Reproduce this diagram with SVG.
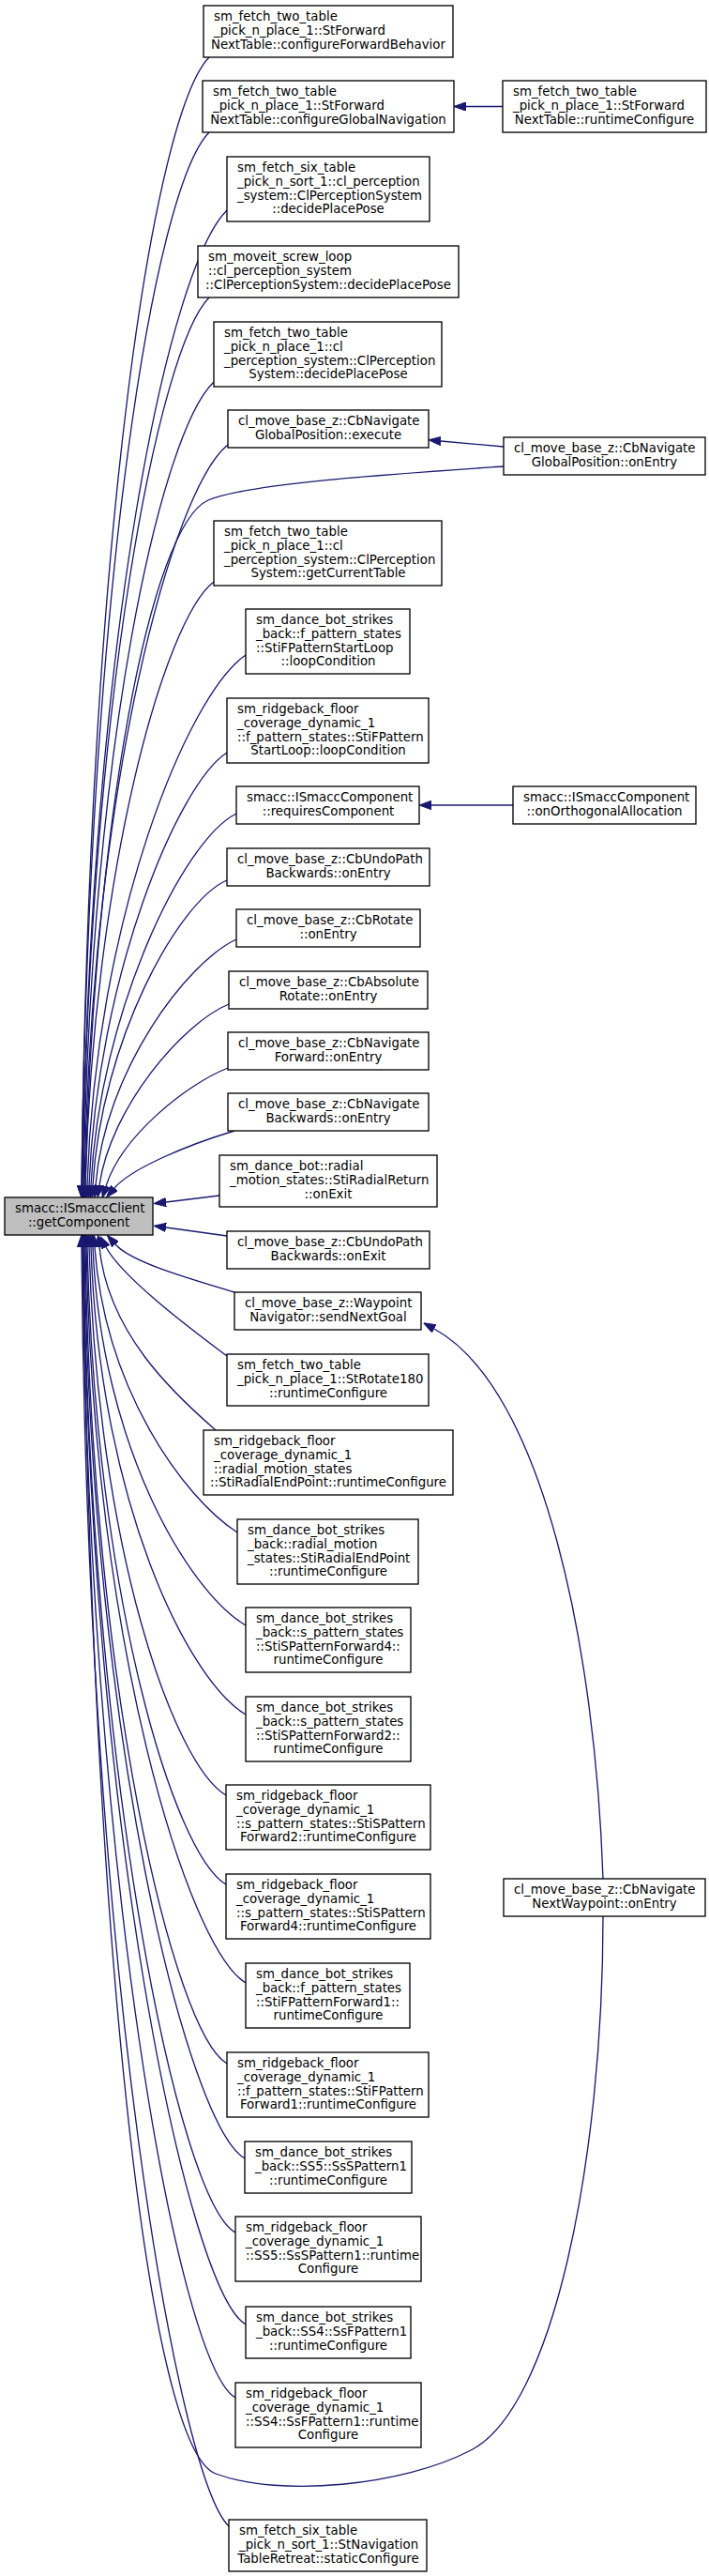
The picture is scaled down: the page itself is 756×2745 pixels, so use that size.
<svg xmlns="http://www.w3.org/2000/svg" width="756" height="2745" viewBox="0 0 756 2745">
<style>
.box{fill:#ffffff;stroke:#000000;stroke-width:1.33}
.main{fill:#bfbfbf;stroke:#000000;stroke-width:1.33}
text{font-family:"DejaVu Sans","Liberation Sans",sans-serif;font-size:13.33px;fill:#000000}
.c{text-anchor:middle}
.e{fill:none;stroke:#191970;stroke-width:1.33;marker-end:url(#ah)}
</style>
<defs>
<marker id="ah" markerUnits="userSpaceOnUse" markerWidth="13" markerHeight="9.4" viewBox="0 0 13 9.4" refX="0" refY="4.7" orient="auto">
<path d="M0,0 L13,4.7 L0,9.4 Z" fill="#191970" stroke="#191970" stroke-width="1"/>
</marker>
</defs>
<rect x="0" y="0" width="756" height="2745" fill="#ffffff"/>
<g id="edges">
<path class="e" d="M536,113.5 L497,113.5"/>
<path class="e" d="M537,476 L470,470"/>
<path class="e" d="M547,858 L460,858"/>
<path class="e" d="M643,2002 C635,1760 580,1480 463,1416"/>
<path class="e" d="M223,61 C165,120 95,560 87,1263"/>
<path class="e" d="M223,141 C165,200 95,620 87,1263"/>
<path class="e" d="M242,224 C180,285 96,680 88,1263"/>
<path class="e" d="M223,317 C170,370 96,740 88,1263"/>
<path class="e" d="M228,407 C172,460 97,790 89,1263"/>
<path class="e" d="M243,474 C185,520 98,830 90,1263"/>
<path class="e" d="M537,497 C420,505 265,515 222,533 C160,560 100,880 91,1263"/>
<path class="e" d="M228,620 C175,660 100,930 91,1263"/>
<path class="e" d="M262,698 C200,740 102,980 93,1263"/>
<path class="e" d="M242,802 C190,835 104,1040 95,1263"/>
<path class="e" d="M252,867 C195,895 106,1080 97,1263"/>
<path class="e" d="M242,938 C190,960 108,1110 99,1263"/>
<path class="e" d="M252,1001 C200,1025 112,1140 102,1263"/>
<path class="e" d="M244,1070 C195,1090 118,1180 106,1263"/>
<path class="e" d="M243,1138 C200,1155 130,1210 113,1264"/>
<path class="e" d="M250,1205 C200,1220 140,1245 122,1266"/>
<path class="e" d="M234,1274 L177,1281"/>
<path class="e" d="M242,1317 L177,1308"/>
<path class="e" d="M250,1377 C200,1362 140,1345 123,1326"/>
<path class="e" d="M242,1445 C195,1410 130,1360 113,1329"/>
<path class="e" d="M230,1524 C185,1485 115,1420 106,1329"/>
<path class="e" d="M253,1633 C195,1595 112,1480 101,1329"/>
<path class="e" d="M262,1732 C200,1695 108,1540 99,1329"/>
<path class="e" d="M262,1827 C200,1790 106,1600 97,1329"/>
<path class="e" d="M241,1913 C185,1880 104,1650 95,1329"/>
<path class="e" d="M241,2008 C185,1975 102,1700 93,1329"/>
<path class="e" d="M262,2113 C200,2075 100,1750 92,1329"/>
<path class="e" d="M242,2199 C185,2165 98,1800 91,1329"/>
<path class="e" d="M261,2300 C200,2265 97,1850 90,1329"/>
<path class="e" d="M251,2379 C190,2345 96,1890 89,1329"/>
<path class="e" d="M262,2477 C200,2440 95,1940 89,1329"/>
<path class="e" d="M251,2555 C190,2520 94,1990 88,1329"/>
<path class="e" d="M643,2042 C643,2300 590,2570 500,2612 C430,2648 300,2662 230,2636 C160,2610 100,2100 88,1329"/>
<path class="e" d="M244,2692 C190,2640 93,2100 87,1329"/>
</g>
<g id="main"><rect class="main" x="5" y="1276" width="158" height="40"/><text x="16" y="1292.3">smacc::ISmaccClient</text><text class="c" x="84" y="1307">::getComponent</text></g>
<g id="n1"><rect class="box" x="217" y="6" width="266" height="55"/><text x="228" y="22.3">sm_fetch_two_table</text><text x="228" y="37">_pick_n_place_1::StForward</text><text class="c" x="350" y="51.6">NextTable::configureForwardBehavior</text></g>
<g id="n2"><rect class="box" x="216" y="86" width="268" height="55"/><text x="227" y="102.3">sm_fetch_two_table</text><text x="227" y="117">_pick_n_place_1::StForward</text><text class="c" x="350" y="131.6">NextTable::configureGlobalNavigation</text></g>
<g id="n3"><rect class="box" x="242" y="167" width="216" height="69"/><text x="253" y="183.3">sm_fetch_six_table</text><text x="253" y="198">_pick_n_sort_1::cl_perception</text><text x="253" y="212.6">_system::ClPerceptionSystem</text><text class="c" x="350" y="227.3">::decidePlacePose</text></g>
<g id="n4"><rect class="box" x="211" y="262" width="278" height="55"/><text x="222" y="278.3">sm_moveit_screw_loop</text><text x="222" y="293">::cl_perception_system</text><text class="c" x="350" y="307.6">::ClPerceptionSystem::decidePlacePose</text></g>
<g id="n5"><rect class="box" x="228" y="343" width="243" height="69"/><text x="239" y="359.3">sm_fetch_two_table</text><text x="239" y="374">_pick_n_place_1::cl</text><text x="239" y="388.6">_perception_system::ClPerception</text><text class="c" x="350" y="403.3">System::decidePlacePose</text></g>
<g id="n6"><rect class="box" x="243" y="437" width="214" height="40"/><text x="254" y="453.3">cl_move_base_z::CbNavigate</text><text class="c" x="350" y="468">GlobalPosition::execute</text></g>
<g id="n7"><rect class="box" x="228" y="555" width="243" height="69"/><text x="239" y="571.3">sm_fetch_two_table</text><text x="239" y="586">_pick_n_place_1::cl</text><text x="239" y="600.6">_perception_system::ClPerception</text><text class="c" x="350" y="615.3">System::getCurrentTable</text></g>
<g id="n8"><rect class="box" x="262" y="649" width="175" height="69"/><text x="273" y="665.3">sm_dance_bot_strikes</text><text x="273" y="680">_back::f_pattern_states</text><text x="273" y="694.6">::StiFPatternStartLoop</text><text class="c" x="350" y="709.3">::loopCondition</text></g>
<g id="n9"><rect class="box" x="242" y="744" width="215" height="69"/><text x="253" y="760.3">sm_ridgeback_floor</text><text x="253" y="775">_coverage_dynamic_1</text><text x="253" y="789.6">::f_pattern_states::StiFPattern</text><text class="c" x="350" y="804.3">StartLoop::loopCondition</text></g>
<g id="n10"><rect class="box" x="252" y="838" width="195" height="40"/><text x="263" y="854.3">smacc::ISmaccComponent</text><text class="c" x="350" y="869">::requiresComponent</text></g>
<g id="n11"><rect class="box" x="242" y="904" width="216" height="40"/><text x="253" y="920.3">cl_move_base_z::CbUndoPath</text><text class="c" x="350" y="935">Backwards::onEntry</text></g>
<g id="n12"><rect class="box" x="252" y="969" width="196" height="40"/><text x="263" y="985.3">cl_move_base_z::CbRotate</text><text class="c" x="350" y="1000">::onEntry</text></g>
<g id="n13"><rect class="box" x="244" y="1035" width="212" height="40"/><text x="255" y="1051.3">cl_move_base_z::CbAbsolute</text><text class="c" x="350" y="1066">Rotate::onEntry</text></g>
<g id="n14"><rect class="box" x="243" y="1100" width="214" height="40"/><text x="254" y="1116.3">cl_move_base_z::CbNavigate</text><text class="c" x="350" y="1131">Forward::onEntry</text></g>
<g id="n15"><rect class="box" x="243" y="1165" width="214" height="40"/><text x="254" y="1181.3">cl_move_base_z::CbNavigate</text><text class="c" x="350" y="1196">Backwards::onEntry</text></g>
<g id="n16"><rect class="box" x="234" y="1231" width="232" height="55"/><text x="245" y="1247.3">sm_dance_bot::radial</text><text x="245" y="1262">_motion_states::StiRadialReturn</text><text class="c" x="350" y="1276.6">::onExit</text></g>
<g id="n17"><rect class="box" x="242" y="1312" width="216" height="40"/><text x="253" y="1328.3">cl_move_base_z::CbUndoPath</text><text class="c" x="350" y="1343">Backwards::onExit</text></g>
<g id="n18"><rect class="box" x="250" y="1377" width="199" height="40"/><text x="261" y="1393.3">cl_move_base_z::Waypoint</text><text class="c" x="350" y="1408">Navigator::sendNextGoal</text></g>
<g id="n19"><rect class="box" x="242" y="1443" width="215" height="55"/><text x="253" y="1459.3">sm_fetch_two_table</text><text x="253" y="1474">_pick_n_place_1::StRotate180</text><text class="c" x="350" y="1488.6">::runtimeConfigure</text></g>
<g id="n20"><rect class="box" x="217" y="1524" width="266" height="69"/><text x="228" y="1540.3">sm_ridgeback_floor</text><text x="228" y="1555">_coverage_dynamic_1</text><text x="228" y="1569.6">::radial_motion_states</text><text class="c" x="350" y="1584.3">::StiRadialEndPoint::runtimeConfigure</text></g>
<g id="n21"><rect class="box" x="253" y="1619" width="193" height="69"/><text x="264" y="1635.3">sm_dance_bot_strikes</text><text x="264" y="1650">_back::radial_motion</text><text x="264" y="1664.6">_states::StiRadialEndPoint</text><text class="c" x="350" y="1679.3">::runtimeConfigure</text></g>
<g id="n22"><rect class="box" x="262" y="1713" width="176" height="69"/><text x="273" y="1729.3">sm_dance_bot_strikes</text><text x="273" y="1744">_back::s_pattern_states</text><text x="273" y="1758.6">::StiSPatternForward4::</text><text class="c" x="350" y="1773.3">runtimeConfigure</text></g>
<g id="n23"><rect class="box" x="262" y="1808" width="176" height="69"/><text x="273" y="1824.3">sm_dance_bot_strikes</text><text x="273" y="1839">_back::s_pattern_states</text><text x="273" y="1853.6">::StiSPatternForward2::</text><text class="c" x="350" y="1868.3">runtimeConfigure</text></g>
<g id="n24"><rect class="box" x="241" y="1902" width="218" height="69"/><text x="252" y="1918.3">sm_ridgeback_floor</text><text x="252" y="1933">_coverage_dynamic_1</text><text x="252" y="1947.6">::s_pattern_states::StiSPattern</text><text class="c" x="350" y="1962.3">Forward2::runtimeConfigure</text></g>
<g id="n25"><rect class="box" x="241" y="1997" width="218" height="69"/><text x="252" y="2013.3">sm_ridgeback_floor</text><text x="252" y="2028">_coverage_dynamic_1</text><text x="252" y="2042.6">::s_pattern_states::StiSPattern</text><text class="c" x="350" y="2057.3">Forward4::runtimeConfigure</text></g>
<g id="n26"><rect class="box" x="262" y="2092" width="175" height="69"/><text x="273" y="2108.3">sm_dance_bot_strikes</text><text x="273" y="2123">_back::f_pattern_states</text><text x="273" y="2137.6">::StiFPatternForward1::</text><text class="c" x="350" y="2152.3">runtimeConfigure</text></g>
<g id="n27"><rect class="box" x="242" y="2187" width="215" height="69"/><text x="253" y="2203.3">sm_ridgeback_floor</text><text x="253" y="2218">_coverage_dynamic_1</text><text x="253" y="2232.6">::f_pattern_states::StiFPattern</text><text class="c" x="350" y="2247.3">Forward1::runtimeConfigure</text></g>
<g id="n28"><rect class="box" x="261" y="2282" width="178" height="55"/><text x="272" y="2298.3">sm_dance_bot_strikes</text><text x="272" y="2313">_back::SS5::SsSPattern1</text><text class="c" x="350" y="2327.6">::runtimeConfigure</text></g>
<g id="n29"><rect class="box" x="251" y="2362" width="198" height="69"/><text x="262" y="2378.3">sm_ridgeback_floor</text><text x="262" y="2393">_coverage_dynamic_1</text><text x="262" y="2407.6">::SS5::SsSPattern1::runtime</text><text class="c" x="350" y="2422.3">Configure</text></g>
<g id="n30"><rect class="box" x="262" y="2458" width="176" height="55"/><text x="273" y="2474.3">sm_dance_bot_strikes</text><text x="273" y="2489">_back::SS4::SsFPattern1</text><text class="c" x="350" y="2503.6">::runtimeConfigure</text></g>
<g id="n31"><rect class="box" x="251" y="2539" width="198" height="69"/><text x="262" y="2555.3">sm_ridgeback_floor</text><text x="262" y="2570">_coverage_dynamic_1</text><text x="262" y="2584.6">::SS4::SsFPattern1::runtime</text><text class="c" x="350" y="2599.3">Configure</text></g>
<g id="n32"><rect class="box" x="244" y="2685" width="211" height="55"/><text x="255" y="2701.3">sm_fetch_six_table</text><text x="255" y="2716">_pick_n_sort_1::StNavigation</text><text class="c" x="350" y="2730.6">TableRetreat::staticConfigure</text></g>
<g id="r1"><rect class="box" x="536" y="86" width="217" height="55"/><text x="547" y="102.3">sm_fetch_two_table</text><text x="547" y="117">_pick_n_place_1::StForward</text><text class="c" x="644.5" y="131.6">NextTable::runtimeConfigure</text></g>
<g id="r2"><rect class="box" x="537" y="466" width="215" height="40"/><text x="548" y="482.3">cl_move_base_z::CbNavigate</text><text class="c" x="644.5" y="497">GlobalPosition::onEntry</text></g>
<g id="r3"><rect class="box" x="547" y="838" width="195" height="40"/><text x="558" y="854.3">smacc::ISmaccComponent</text><text class="c" x="644.5" y="869">::onOrthogonalAllocation</text></g>
<g id="r4"><rect class="box" x="537" y="2002" width="215" height="40"/><text x="548" y="2018.3">cl_move_base_z::CbNavigate</text><text class="c" x="644.5" y="2033">NextWaypoint::onEntry</text></g>
</svg>
